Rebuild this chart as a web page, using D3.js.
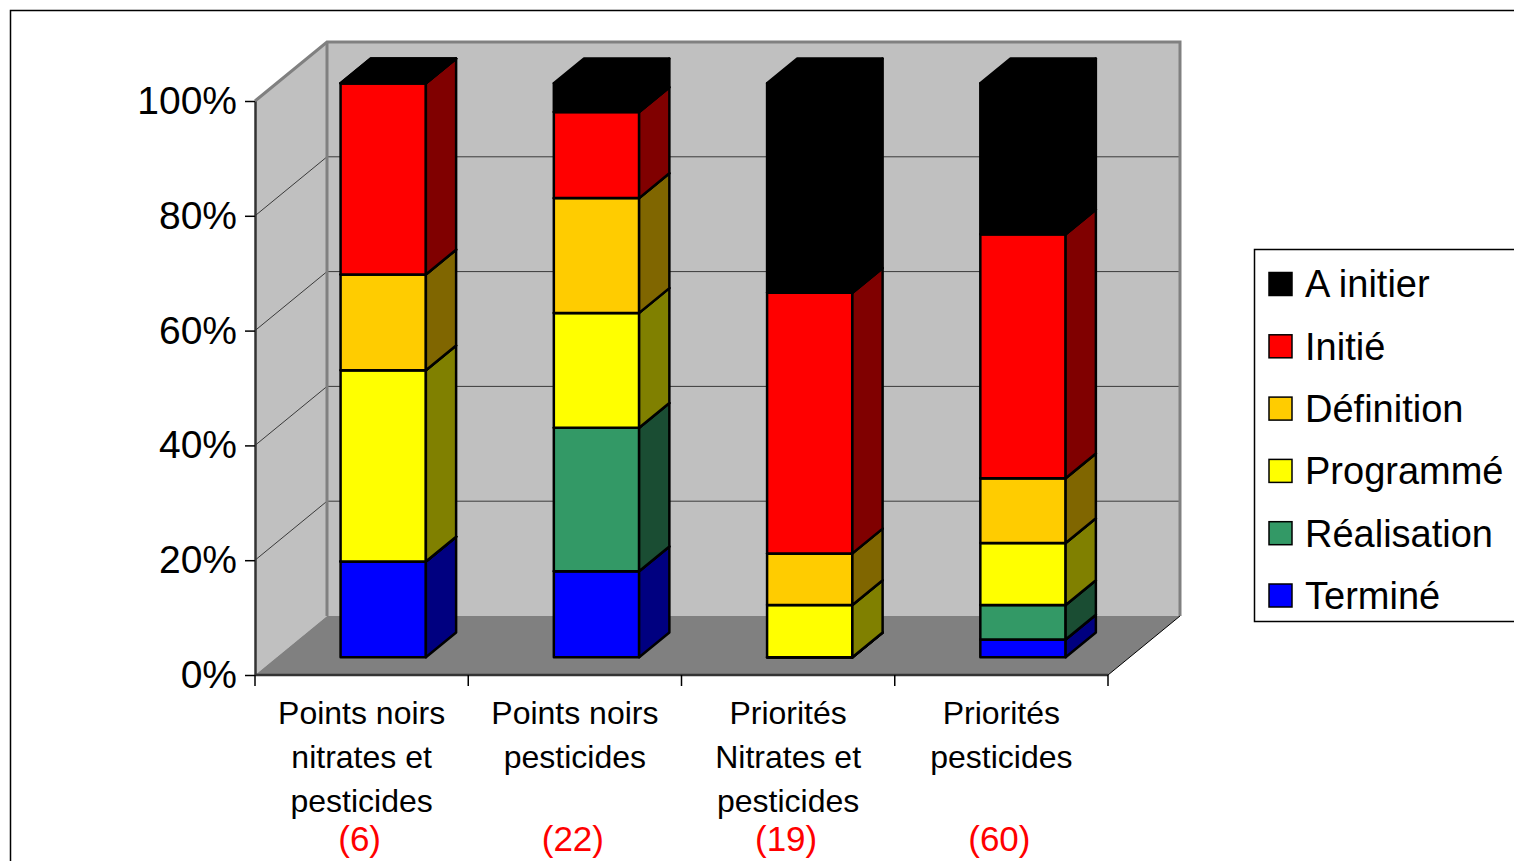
<!DOCTYPE html>
<html>
<head>
<meta charset="utf-8">
<script src="https://cdn.jsdelivr.net/npm/d3@7"></script>
<style>
  body { margin: 0; background: #fff; }
  svg { display: block; font-family: "Liberation Sans", Arial, sans-serif; }
</style>
</head>
<body>
<div id="chart"></div>
<script>
// categories and their label lines
const categories = ["pn-nitrates", "pn-pesticides", "prio-nitrates", "prio-pesticides"];
const labelLines = [
  ["Points noirs", "nitrates et", "pesticides"],
  ["Points noirs", "pesticides"],
  ["Priorités", "Nitrates et", "pesticides"],
  ["Priorités", "pesticides"]
];
const counts = ["(6)", "(22)", "(19)", "(60)"];

// series, bottom to top (percent of each column)
const seriesNames = ["Terminé", "Réalisation", "Programmé", "Définition", "Initié", "A initier"];
const termine     = [16.7, 15, 0, 3.1];
const realisation = [0, 25, 0, 6.0];
const programme   = [33.3, 20, 9.1, 10.8];
const definition  = [16.7, 20, 9.0, 11.3];
const initie      = [33.3, 15, 45.4, 42.5];
const aInitier    = [0, 5, 36.5, 26.3];
const yTicks = [0, 20, 40, 60, 80, 100];

const colors = ["#0000FF", "#339966", "#FFFF00", "#FFCC00", "#FF0000", "#000000"];

const seriesValues = [termine, realisation, programme, definition, initie, aInitier];
const rows = categories.map((c, j) => {
  const r = {cat: c};
  seriesNames.forEach((s, i) => r[s] = seriesValues[i][j]);
  return r;
});
const stacked = d3.stack().keys(seriesNames)(rows);

const W = 1514, H = 861;
const svg = d3.select("#chart").append("svg").attr("width", W).attr("height", H);

// outer frame
svg.append("rect").attr("x", 10.5).attr("y", 10.5).attr("width", W).attr("height", H)
  .attr("fill", "none").attr("stroke", "#000").attr("stroke-width", 1.5);

const x = d3.scaleBand().domain(categories).range([255, 1108]);
const y = d3.scaleLinear().domain([0, 100]).range([675, 101]);
const DX = 72, DY = 59;            // depth projection
const P = (px, py, z) => [px + z * DX, py - z * DY];
const poly = pts => pts.map(p => p.join(",")).join(" ");

const xL = x.range()[0], xR = x.range()[1];
const y0 = y(0), y100 = y(100);

// walls and floor
svg.append("polygon")
  .attr("points", poly([P(xL, y0, 0), P(xL, y100, 0), P(xL, y100, 1), P(xL, y0, 1)]))
  .attr("fill", "#C0C0C0");
svg.append("polygon")
  .attr("points", poly([P(xL, y100, 1), P(xR, y100, 1), P(xR, y0, 1), P(xL, y0, 1)]))
  .attr("fill", "#C0C0C0");
svg.append("polygon")
  .attr("points", poly([P(xL, y0, 0), P(xR, y0, 0), P(xR, y0, 1), P(xL, y0, 1)]))
  .attr("fill", "#808080");

// gridlines
yTicks.filter(v => v > 0 && v < 100).forEach(v => {
  svg.append("polyline")
    .attr("points", poly([P(xL, y(v), 0), P(xL, y(v), 1), P(xR, y(v), 1)]))
    .attr("fill", "none").attr("stroke", "#3a3a3a").attr("stroke-width", 1);
});

// wall borders
svg.append("polyline")
  .attr("points", poly([P(xL, y100, 0), P(xL, y100, 1), P(xR, y100, 1), P(xR, y0, 1)]))
  .attr("fill", "none").attr("stroke", "#808080").attr("stroke-width", 3);
svg.append("line")
  .attr("x1", P(xL, y100, 1)[0]).attr("y1", P(xL, y100, 1)[1])
  .attr("x2", P(xL, y0, 1)[0]).attr("y2", P(xL, y0, 1)[1])
  .attr("stroke", "#808080").attr("stroke-width", 3);
svg.append("line")
  .attr("x1", P(xR, y0, 0)[0]).attr("y1", P(xR, y0, 0)[1])
  .attr("x2", P(xR, y0, 1)[0]).attr("y2", P(xR, y0, 1)[1])
  .attr("stroke", "#000").attr("stroke-width", 1);

// bars
const z0 = 0.30, z1 = 0.72;
const bw = x.step() * 0.4;
const half = c => { const r = d3.rgb(c); return d3.rgb(Math.round(r.r / 2), Math.round(r.g / 2), Math.round(r.b / 2)).formatHex(); };
const bars = svg.append("g").attr("stroke", "#000").attr("stroke-width", 2.5).attr("stroke-linejoin", "round");

categories.forEach((cat, j) => {
  const l = x(cat) + (x.step() - bw) / 2, r = l + bw;
  stacked.forEach((layer, i) => {
    const d = layer[j];
    const yb = y(d[0]), yt = y(d[1]);
    const col = colors[i];
    bars.append("polygon")
      .attr("points", poly([P(l, yb, z0), P(r, yb, z0), P(r, yt, z0), P(l, yt, z0)]))
      .attr("fill", col);
    bars.append("polygon")
      .attr("points", poly([P(r, yb, z0), P(r, yt, z0), P(r, yt, z1), P(r, yb, z1)]))
      .attr("fill", half(col));
    bars.append("polygon")
      .attr("points", poly([P(l, yt, z0), P(r, yt, z0), P(r, yt, z1), P(l, yt, z1)]))
      .attr("fill", col);
  });
});

// y axis
const yAxis = svg.append("g").attr("transform", `translate(${xL},0)`)
  .call(d3.axisLeft(y).tickValues(yTicks).tickFormat(d => d + "%").tickSize(10).tickSizeOuter(0).tickPadding(8));
yAxis.select(".domain").attr("stroke", "#333").attr("stroke-width", 2.5);
yAxis.selectAll(".tick line").attr("stroke", "#000").attr("stroke-width", 1.5);
yAxis.selectAll(".tick text").attr("font-size", 39).attr("fill", "#000")
  .attr("font-family", "Liberation Sans, Arial, sans-serif");

// x axis line and boundary ticks
svg.append("line").attr("x1", xL).attr("x2", xR).attr("y1", y0).attr("y2", y0)
  .attr("stroke", "#333").attr("stroke-width", 2.5);
const bounds = categories.map(c => x(c)).concat([xR]);
svg.selectAll(".xtick").data(bounds).join("line").attr("class", "xtick")
  .attr("x1", d => d).attr("x2", d => d).attr("y1", y0).attr("y2", y0 + 11)
  .attr("stroke", "#000").attr("stroke-width", 1.5);

// category labels
categories.forEach((cat, j) => {
  const cx = x(cat) + x.step() / 2;
  labelLines[j].forEach((t, k) => {
    svg.append("text").attr("x", cx).attr("y", 724 + k * 44)
      .attr("text-anchor", "middle").attr("font-size", 32).attr("fill", "#000").text(t);
  });
  svg.append("text").attr("x", cx - 2).attr("y", 851)
    .attr("text-anchor", "middle").attr("font-size", 35).attr("fill", "#FF0000").text(counts[j]);
});

// legend
const lg = svg.append("g");
lg.append("rect").attr("x", 1254.5).attr("y", 249.5).attr("width", 300).attr("height", 372)
  .attr("fill", "#fff").attr("stroke", "#000").attr("stroke-width", 1.5);
seriesNames.slice().reverse().forEach((name, k) => {
  const cy = 284 + k * 62.3;
  const i = seriesNames.indexOf(name);
  lg.append("rect").attr("x", 1269).attr("y", cy - 11.5).attr("width", 23).attr("height", 23)
    .attr("fill", colors[i]).attr("stroke", "#000").attr("stroke-width", 1.5);
  lg.append("text").attr("x", 1305).attr("y", cy).attr("dy", "0.35em")
    .attr("font-size", 38).attr("fill", "#000").text(name);
});
</script>
</body>
</html>
